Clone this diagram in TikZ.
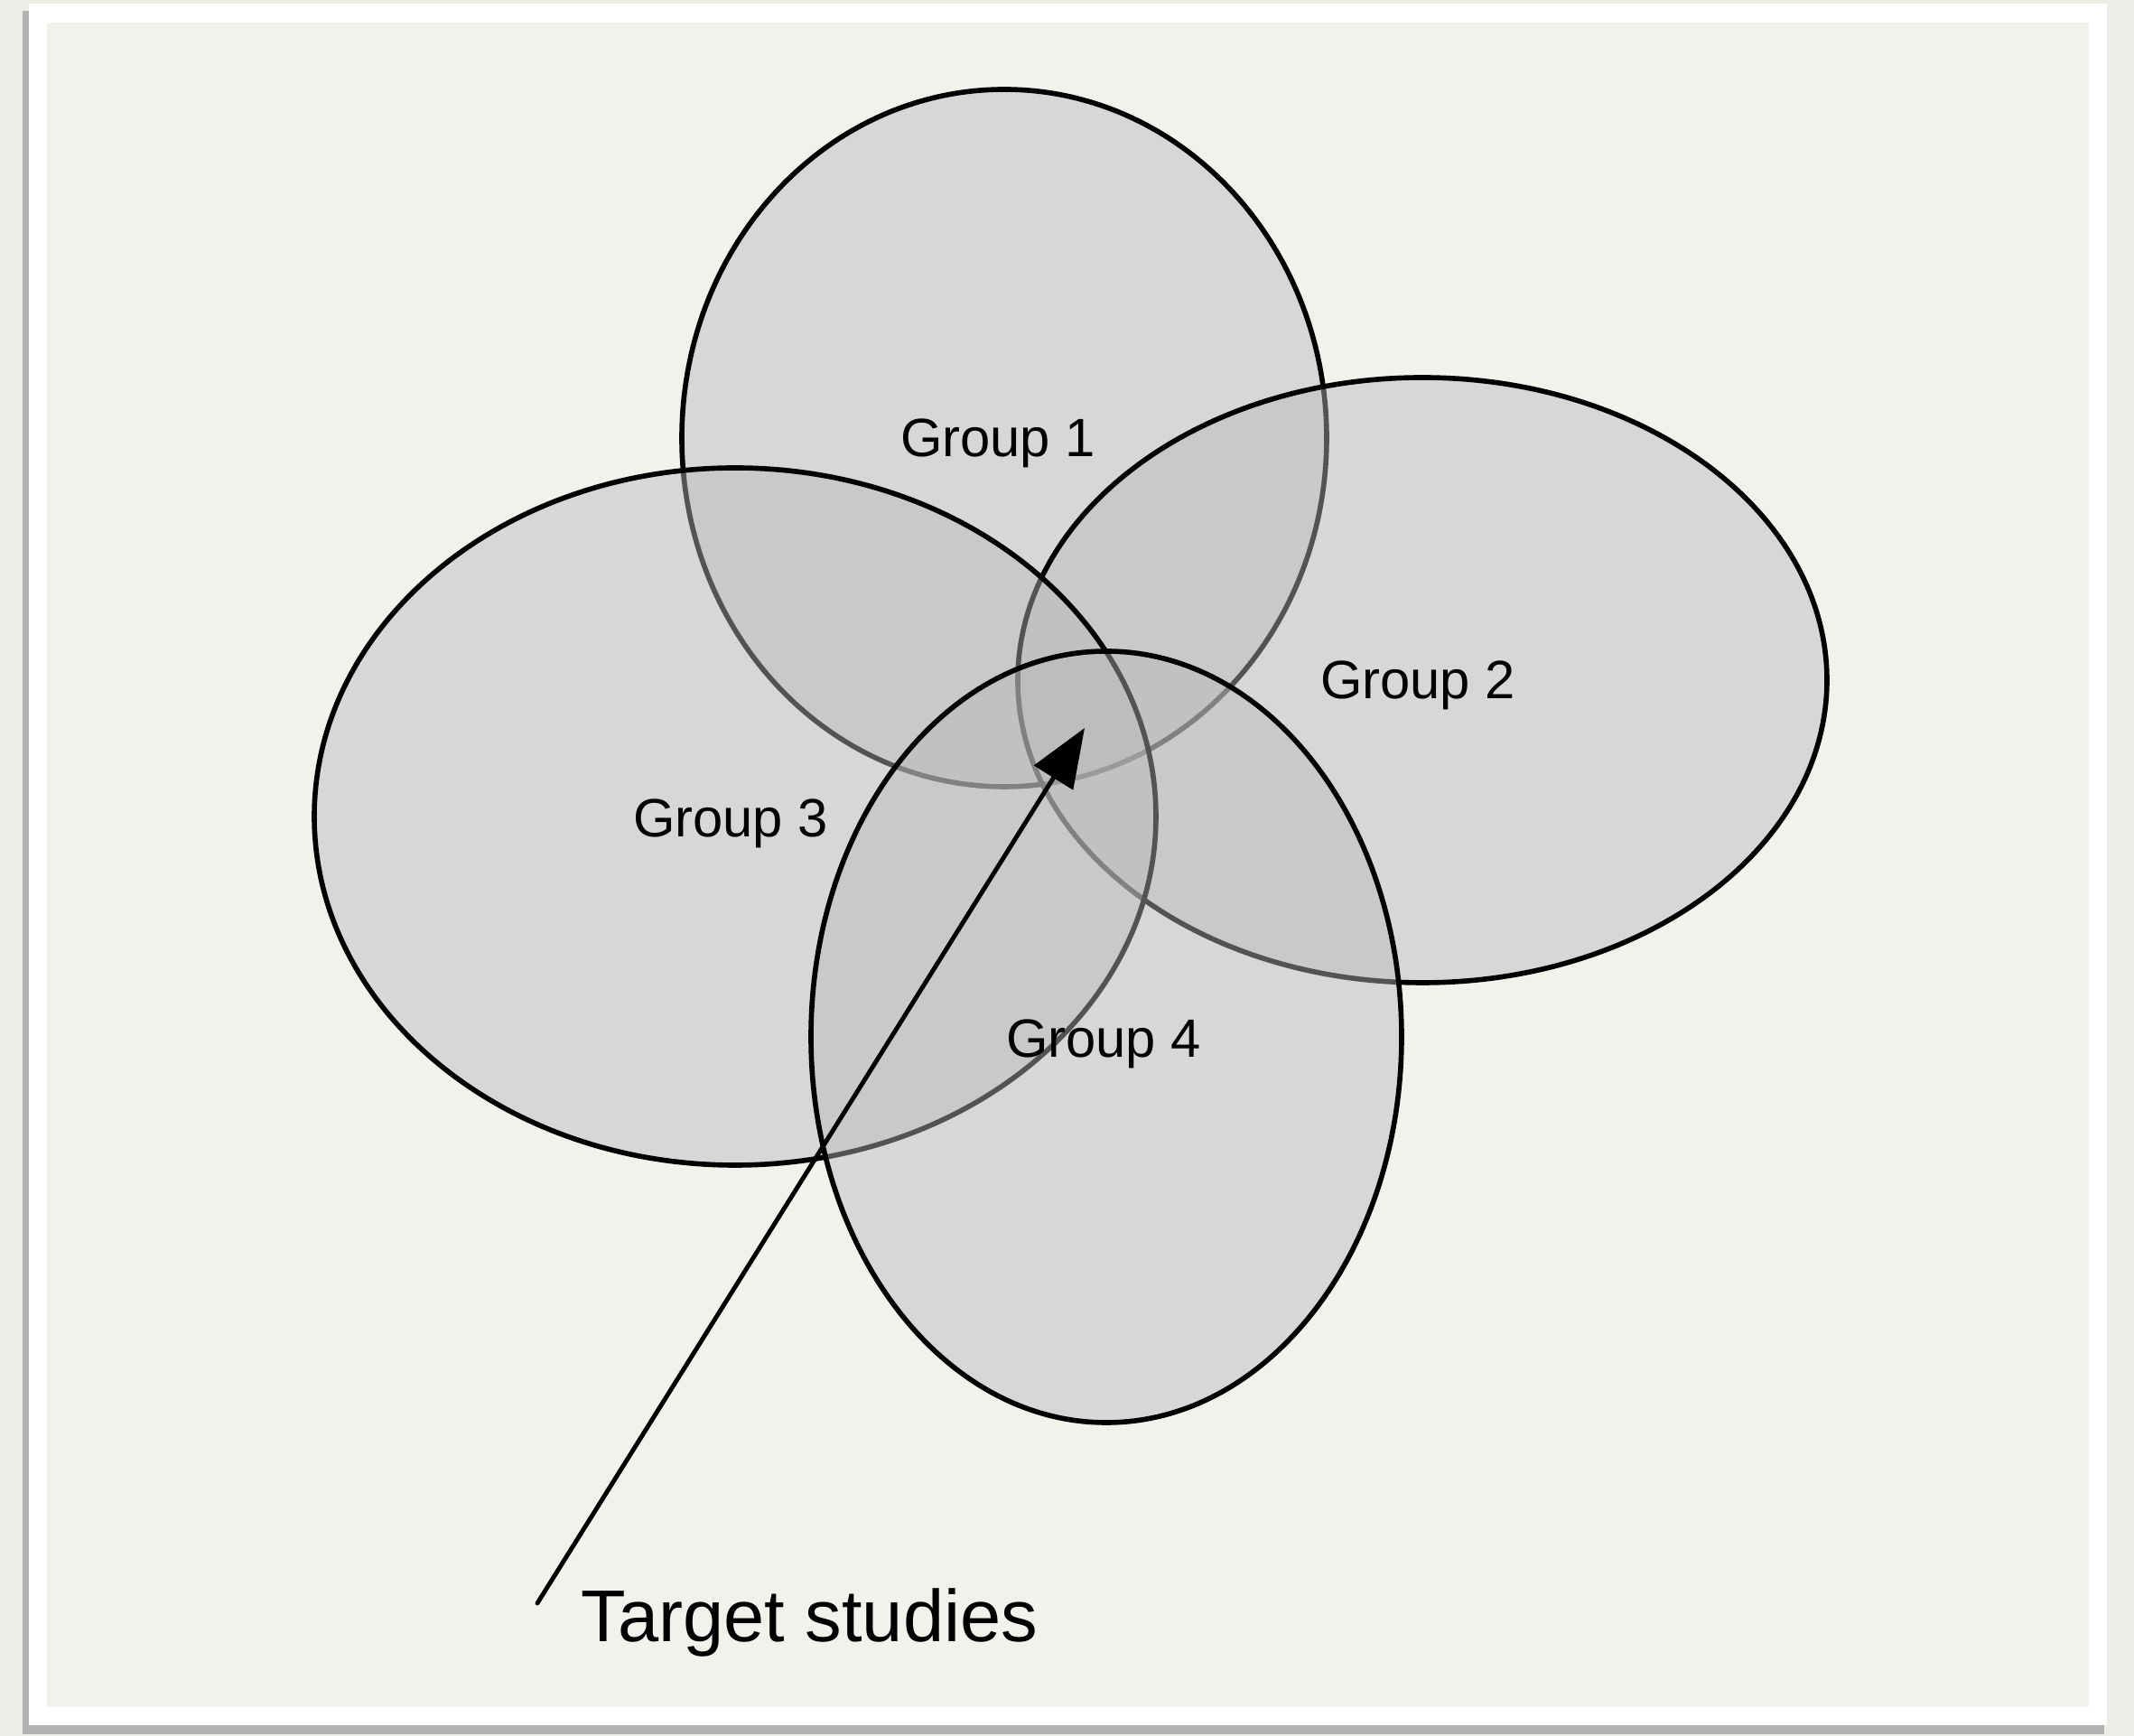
\documentclass[tikz,border=0pt]{standalone}
\usepackage{fontspec}
\setmainfont{Liberation Sans}
\usetikzlibrary{arrows.meta}
\definecolor{paper}{HTML}{F3F1EC}
\definecolor{desk}{HTML}{EEECE7}
\definecolor{groupfill}{HTML}{B9B9B9}
\tikzset{
  group/.style={draw=black,line width=1.6pt,fill=groupfill,fill opacity=0.45},
  grouplabel/.style={font=\fontsize{17}{20}\selectfont},
}
\begin{document}
\begin{tikzpicture}
  % paper and frame
  \fill[desk] (0,0) rectangle (23.63,19.22);
  \useasboundingbox (0,0) rectangle (23.63,19.22);
  \fill[black!30] (0.25,0.02) rectangle (23.30,19.10);
  \fill[white] (0.32,0.12) rectangle (23.33,19.18);
  \fill[paper] (0.52,0.32) rectangle (23.13,18.97);

  % the four groups
  \draw[group] (11.12,14.37) ellipse [x radius=3.57,y radius=3.86];
  \draw[group] (15.75,11.69) ellipse [x radius=4.48,y radius=3.35];
  \draw[group] (8.14,10.18) ellipse [x radius=4.66,y radius=3.86];
  \draw[group] (12.25,7.74) ellipse [x radius=3.27,y radius=4.27];

  \node[grouplabel] (g1) at (11.05,14.31) {Group 1};
  \node[grouplabel] (g2) at (15.70,11.63) {Group 2};
  \node[grouplabel] (g3) at (8.09,10.10) {Group 3};
  \node[grouplabel] (g4) at (12.22,7.66) {Group 4};

  % arrow to the common part
  \coordinate (tail) at (5.95,1.47);
  \coordinate (tip) at (12.01,11.16);
  \node[anchor=west,inner sep=0pt,font=\fontsize{23.1}{27}\selectfont] (target) at (6.43,1.25) {Target studies};
  \draw[line width=1.4pt,line cap=round,-{Triangle[length=6.5mm,width=5mm]}] (tail) -- (tip);
\end{tikzpicture}
\end{document}
